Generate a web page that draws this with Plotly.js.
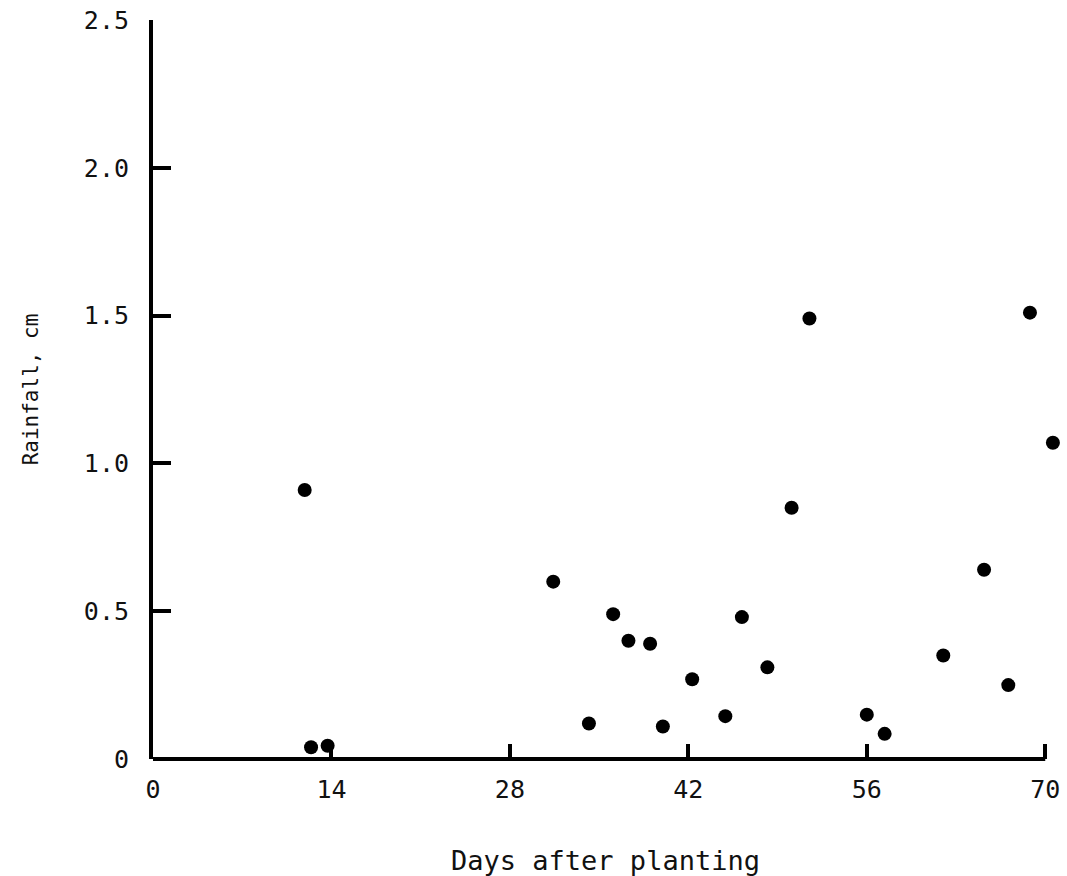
<!DOCTYPE html>
<html>
<head>
<meta charset="utf-8">
<script src="https://cdn.plot.ly/plotly-3.0.1.min.js"></script>
<style>html,body{margin:0;padding:0;background:#fff;}#chart{width:1067px;height:876px;}</style>
</head>
<body>
<div id="chart"></div>
<script>
const days = [11.9, 12.4, 13.7, 31.4, 34.2, 36.1, 37.3, 39.0, 40.0, 42.3, 44.9, 46.2, 48.2, 50.1, 51.5, 56.0, 57.4, 62.0, 65.2, 67.1, 68.8, 70.6];
const rainfall = [0.91, 0.04, 0.045, 0.60, 0.12, 0.49, 0.40, 0.39, 0.11, 0.27, 0.145, 0.48, 0.31, 0.85, 1.49, 0.15, 0.085, 0.35, 0.64, 0.25, 1.51, 1.07];
const xTickVals = [0, 14, 28, 42, 56, 70];
const xTickText = ['0', '14', '28', '42', '56', '70'];
const yTickVals = [0, 0.5, 1.0, 1.5, 2.0, 2.5];
const yTickText = ['0', '0.5', '1.0', '1.5', '2.0', '2.5'];
const xAxisEnd = 70;

const font = 'DejaVu Sans Mono, Liberation Mono, monospace';
Plotly.newPlot('chart', [{
  x: days, y: rainfall, type: 'scatter', mode: 'markers',
  marker: {color: '#000', size: 14},
  cliponaxis: false, showlegend: false
}], {
  width: 1067, height: 876,
  margin: {l: 153, r: 9, t: 20, b: 117},
  paper_bgcolor: '#fff', plot_bgcolor: '#fff',
  font: {family: font, color: '#111', size: 22},
  shapes: [{type: 'line', xref: 'x', yref: 'paper', x0: 0, x1: xAxisEnd, y0: 0, y1: 0,
            line: {color: '#000', width: 4}}],
  xaxis: {
    range: [0, 71], tickvals: xTickVals, ticktext: xTickText,
    ticks: 'inside', ticklen: 15, tickwidth: 4, tickcolor: '#000',
    showline: false,
    showgrid: false, zeroline: false, ticklabelstandoff: 13,
    tickfont: {size: 25, family: font},
    title: {text: 'Days after planting', font: {size: 27, family: font}, standoff: 50},
    automargin: false
  },
  yaxis: {
    range: [0, 2.5], tickvals: yTickVals, ticktext: yTickText,
    ticks: 'inside', ticklen: 18, tickwidth: 4, tickcolor: '#000',
    showline: true, linewidth: 4, linecolor: '#000',
    showgrid: false, zeroline: false, ticklabelstandoff: 15,
    tickfont: {size: 25, family: font},
    title: {text: 'Rainfall, cm', font: {size: 21, family: font}, standoff: 40},
    automargin: false
  }
}, {staticPlot: true});
</script>
</body>
</html>
